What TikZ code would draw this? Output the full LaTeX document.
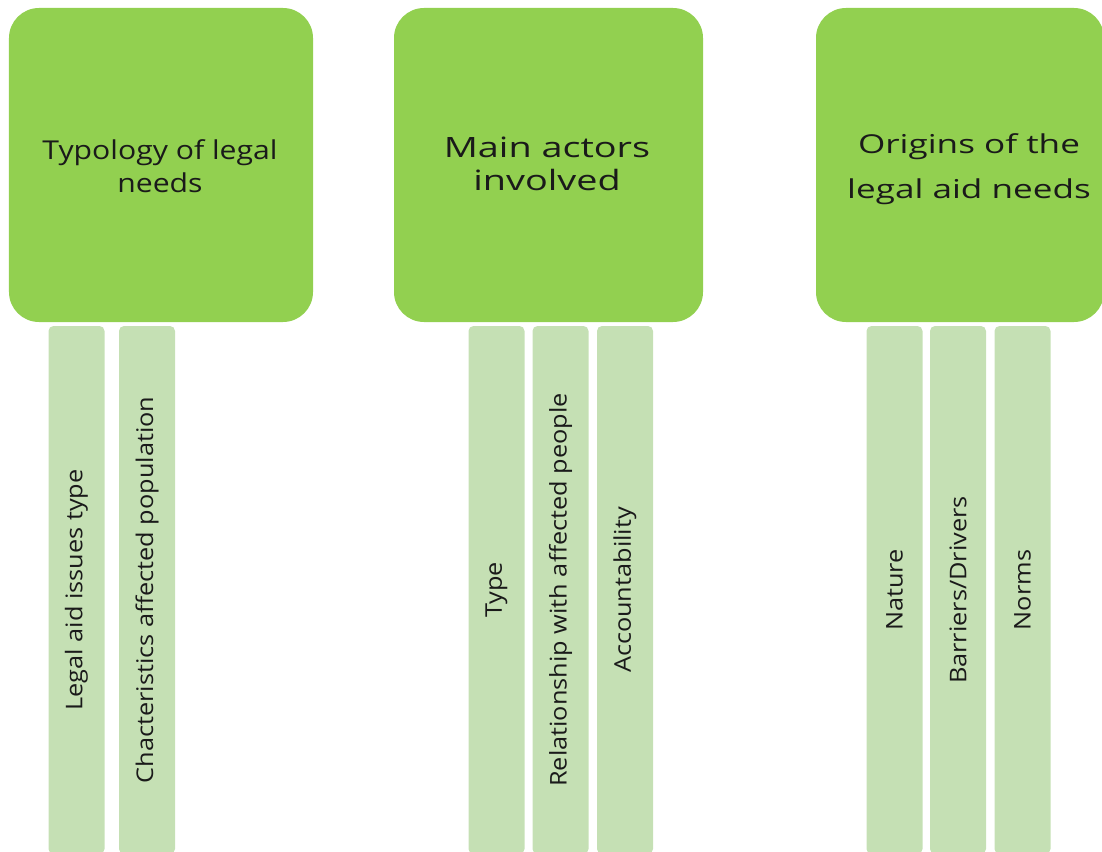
\documentclass[tikz,border=0pt]{standalone}
\usepackage{fontspec}
\usepackage{graphicx}
\setmainfont{Open Sans}
\definecolor{headgreen}{HTML}{92D050}
\definecolor{bargreen}{HTML}{C5E0B4}
\definecolor{txt}{HTML}{1A1A1A}
\newcommand{\wide}[2]{\scalebox{#1}[1]{#2}}
\begin{document}
\begin{tikzpicture}[x=1bp,y=-1bp,
  headbox/.style={fill=headgreen,draw=none,rounded corners=30bp,minimum width=#1,minimum height=314bp,
    inner sep=0pt,text=txt,align=center},
  barbox/.style={fill=bargreen,draw=none,rounded corners=5bp,minimum width=56bp,minimum height=528bp,
    inner sep=0pt},
  bartext/.style={rotate=90,text=txt,font=\fontsize{23bp}{27bp}\selectfont,inner sep=0pt}]
\useasboundingbox (0,0) rectangle (1102,852);
\clip (0,0) rectangle (1102,852);
% header boxes
\node[headbox=304bp] (h1) at (161,165) {};
\node[headbox=309bp] (h2) at (548.5,165) {};
\node[headbox=288bp] (h3) at (960,165) {};
\node[text=txt,align=center,font=\fontsize{26bp}{33bp}\selectfont] (t1) at (160,166)
  {\wide{1.16}{Typology of legal}\\\wide{1.16}{needs}};
\node[text=txt,align=center,font=\fontsize{28bp}{33bp}\selectfont] (t2) at (547,164)
  {\wide{1.35}{Main actors}\\\wide{1.35}{involved}};
\node[text=txt,align=center,font=\fontsize{26bp}{45bp}\selectfont] (t3) at (969,169)
  {\wide{1.35}{Origins of the}\\\wide{1.35}{legal aid needs}};
% bars
\node[barbox] (b1a) at (76.5,590) {};
\node[barbox] (b1b) at (147,590) {};
\node[barbox] (b2a) at (496.5,590) {};
\node[barbox] (b2b) at (560.5,590) {};
\node[barbox] (b2c) at (625,590) {};
\node[barbox] (b3a) at (894.5,590) {};
\node[barbox] (b3b) at (958,590) {};
\node[barbox] (b3c) at (1022.5,590) {};
% bar texts
\node[bartext] (l1a) at (b1a) {\wide{1.1}{Legal aid issues type}};
\node[bartext] (l1b) at (b1b) {\wide{1.1}{Chacteristics affected population}};
\node[bartext] (l2a) at (b2a) {\wide{1.1}{Type}};
\node[bartext] (l2b) at (b2b) {\wide{1.1}{Relationship with affected people}};
\node[bartext] (l2c) at (b2c) {\wide{1.1}{Accountability}};
\node[bartext] (l3a) at (b3a) {\wide{1.1}{Nature}};
\node[bartext] (l3b) at (b3b) {\wide{1.1}{Barriers/Drivers}};
\node[bartext] (l3c) at (b3c) {\wide{1.1}{Norms}};
\end{tikzpicture}
\end{document}
